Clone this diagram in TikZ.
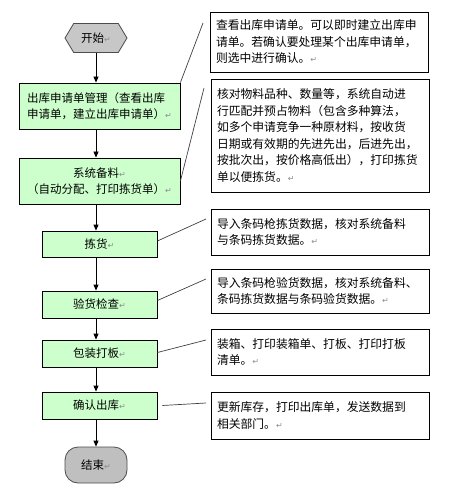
\documentclass[tikz,border=0pt]{standalone}
\usepackage{fontspec}
\setmainfont{Noto Sans CJK SC}
\newfontfamily\markfont{DejaVu Sans}
\usetikzlibrary{shapes.symbols,arrows.meta}

\newcommand{\pmark}{{\markfont\color{black!45}\fontsize{8}{8}\selectfont ↵}}

\tikzset{
  >={Triangle[width=5pt,length=6pt]},
  proc/.style={draw=black, line width=0.8pt, fill=green!20, inner sep=0pt,
    font=\fontsize{11.5}{16}\selectfont},
  note/.style={draw=black, line width=0.8pt, fill=white, inner xsep=6pt, inner ysep=0pt,
    text width=206pt, align=left, font=\fontsize{11.8}{16.5}\selectfont},
  callout/.style={draw=black!75, line width=0.7pt},
  flow/.style={->, line width=0.8pt}
}

\begin{document}
\begin{tikzpicture}[x=1pt,y=-1pt]
	\useasboundingbox (0,0) rectangle (451,494);
	% main flow
	\node[signal, signal to=east and west, signal pointer angle=118, draw=black!70,
		line width=0.8pt, fill=black!22, minimum width=62pt, minimum height=29pt,
		inner sep=0pt, font=\fontsize{11.5}{14}\selectfont] (start) at (96,38) {开始\pmark};
	\node[proc, minimum width=161pt, minimum height=46pt, align=left] (manage) at (99.5,106)
		{出库申请单管理（查看出库\\申请单，建立出库申请单）\pmark};
	\node[proc, minimum width=161pt, minimum height=46pt, align=center] (prepare) at (99.5,181)
		{系统备料\pmark\\（自动分配、打印拣货单）\pmark};
	\node[proc, minimum width=115pt, minimum height=26pt] (pick) at (99.5,244) {拣货\pmark};
	\node[proc, minimum width=115pt, minimum height=27pt] (inspect) at (99.5,304.5) {验货检查\pmark};
	\node[proc, minimum width=115pt, minimum height=27pt] (pack) at (99.5,353.5) {包装打板\pmark};
	\node[proc, minimum width=115pt, minimum height=27pt] (confirm) at (99.5,405.5) {确认出库\pmark};
	\node[draw=black!70, line width=0.8pt, fill=black!25, rounded corners=13pt,
		minimum width=62pt, minimum height=36pt, inner sep=0pt,
		font=\fontsize{11.5}{14}\selectfont] (finish) at (96,465) {结束\pmark};

	% arrows
	\draw[flow] (start.south) -- (start.south |- manage.north);
	\draw[flow] (manage.south -| start) -- (prepare.north -| start);
	\draw[flow] (prepare.south -| start) -- (pick.north -| start);
	\draw[flow] (pick.south -| start) -- (inspect.north -| start);
	\draw[flow] (inspect.south -| start) -- (pack.north -| start);
	\draw[flow] (pack.south -| start) -- (confirm.north -| start);
	\draw[flow] (confirm.south -| start) -- (finish.north);

	% notes
	\node[note, minimum height=60pt] (n1) at (319,42)
		{查看出库申请单。可以即时建立出库申\\请单。若确认要处理某个出库申请单，\\则选中进行确认。\pmark};
	\node[note, minimum height=113pt] (n2) at (320,135.5)
		{核对物料品种、数量等，系统自动进\\行匹配并预占物料（包含多种算法，\\如多个申请竞争一种原材料，按收货\\日期或有效期的先进先出，后进先出，\\按批次出，按价格高低出），打印拣货\\单以便拣货。\pmark};
	\node[note, minimum height=46pt] (n3) at (320,232)
		{导入条码枪拣货数据，核对系统备料\\与条码拣货数据。\pmark};
	\node[note, minimum height=44pt] (n4) at (320,291)
		{导入条码枪验货数据，核对系统备料、\\条码拣货数据与条码验货数据。\pmark};
	\node[note, minimum height=46pt] (n5) at (320,352)
		{装箱、打印装箱单、打板、打印打板\\清单。\pmark};
	\node[note, minimum height=47pt] (n6) at (320,415.5)
		{更新库存，打印出库单，发送数据到\\相关部门。\pmark};

	% callout lines
	\coordinate (c1) at (203,23);
	\coordinate (c2) at (204,88);
	\coordinate (c3) at (206,219);
	\coordinate (c4) at (206,279);
	\coordinate (c5) at (206,340);
	\coordinate (c6) at (206,403);
	\draw[callout] (manage.north east) -- (c1);
	\draw[callout] (prepare.east) -- (c2);
	\draw[callout] ([yshift=3pt]pick.east) -- (c3);
	\draw[callout] ([yshift=4pt]inspect.east) -- (c4);
	\draw[callout] ([yshift=1pt]pack.east) -- (c5);
	\draw[callout] ([xshift=5pt]confirm.east) -- (c6);
\end{tikzpicture}
\end{document}
